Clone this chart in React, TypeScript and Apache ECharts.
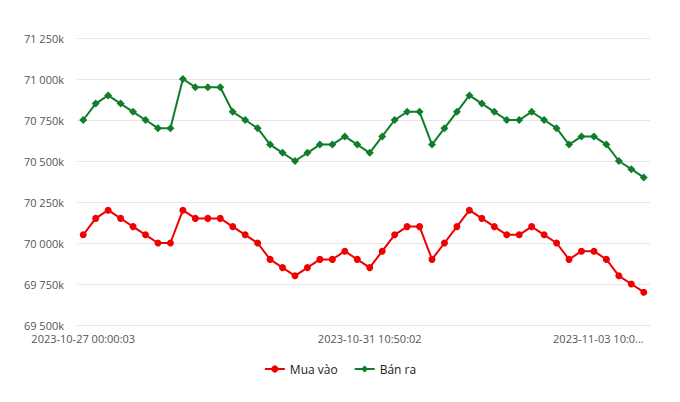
import React, { useEffect, useRef } from "react";
import * as echarts from "echarts";

const buyValues = [
  70050, 70150, 70200, 70150, 70100, 70050, 70000, 70000, 70200, 70150,
  70150, 70150, 70100, 70050, 70000, 69900, 69850, 69800, 69850, 69900,
  69900, 69950, 69900, 69850, 69950, 70050, 70100, 70100, 69900, 70000,
  70100, 70200, 70150, 70100, 70050, 70050, 70100, 70050, 70000, 69900,
  69950, 69950, 69900, 69800, 69750, 69700,
];

const sellValues = [
  70750, 70850, 70900, 70850, 70800, 70750, 70700, 70700, 71000, 70950,
  70950, 70950, 70800, 70750, 70700, 70600, 70550, 70500, 70550, 70600,
  70600, 70650, 70600, 70550, 70650, 70750, 70800, 70800, 70600, 70700,
  70800, 70900, 70850, 70800, 70750, 70750, 70800, 70750, 70700, 70600,
  70650, 70650, 70600, 70500, 70450, 70400,
];

const tickIndices = [0, 23, 45];
const tickLabels = ["2023-10-27 00:00:03", "2023-10-31 10:50:02", "2023-11-03 10:0..."];

const seriesNames = ["Mua vào", "Bán ra"];
const yMin = 69500;
const yMax = 71250;
const yInterval = 250;

const categories = buyValues.map((_, i) => {
  const k = tickIndices.indexOf(i);
  return k >= 0 ? tickLabels[k] : "#" + i;
});

function fmtY(v: number): string {
  return String(Math.round(v)).replace(/\B(?=(\d{3})+(?!\d))/g, " ") + "k";
}

export default function App() {
  const ref = useRef<HTMLDivElement>(null);
  useEffect(() => {
    document.body.style.margin = "0";
    if (!ref.current) return;
    const chart = echarts.init(ref.current, undefined, { renderer: "svg" });
    const font = "'Open Sans', sans-serif";
    chart.setOption({
      animation: false,
      backgroundColor: "#ffffff",
      textStyle: { fontFamily: font },
      grid: { left: 77, right: 30, top: 38, bottom: 77 },
      legend: {
        top: 358,
        left: "center",
        itemWidth: 20,
        itemHeight: 9,
        itemGap: 16,
        textStyle: { fontFamily: font, fontSize: 12, color: "#222222" },
        data: seriesNames,
      },
      xAxis: {
        type: "category",
        boundaryGap: true,
        data: categories,
        axisLine: { show: true, lineStyle: { color: "#e0e6f1", width: 1 } },
        axisTick: { show: false },
        splitLine: { show: false },
        axisLabel: {
          interval: (i: number) => tickIndices.indexOf(i) >= 0,
          fontFamily: font,
          fontSize: 11,
          color: "#555555",
          margin: 8,
          alignMaxLabel: "right",
          showMaxLabel: true,
        },
      },
      yAxis: {
        type: "value",
        min: yMin,
        max: yMax,
        interval: yInterval,
        axisLine: { show: false },
        axisTick: { show: false },
        splitLine: { lineStyle: { color: "#e6e6e6", width: 1 } },
        axisLabel: {
          formatter: (v: number) => fmtY(v),
          fontFamily: font,
          fontSize: 11,
          color: "#555555",
          margin: 13,
        },
      },
      series: [
        {
          name: seriesNames[0],
          type: "line",
          data: buyValues,
          symbol: "circle",
          symbolSize: 7,
          showSymbol: true,
          lineStyle: { color: "#f00000", width: 2 },
          itemStyle: { color: "#f00000" },
        },
        {
          name: seriesNames[1],
          type: "line",
          data: sellValues,
          symbol: "diamond",
          symbolSize: 8,
          showSymbol: true,
          lineStyle: { color: "#0f7d2a", width: 2 },
          itemStyle: { color: "#0f7d2a" },
        },
      ],
    });
    return () => chart.dispose();
  }, []);
  return <div ref={ref} style={{ width: 680, height: 402 }} />;
}
